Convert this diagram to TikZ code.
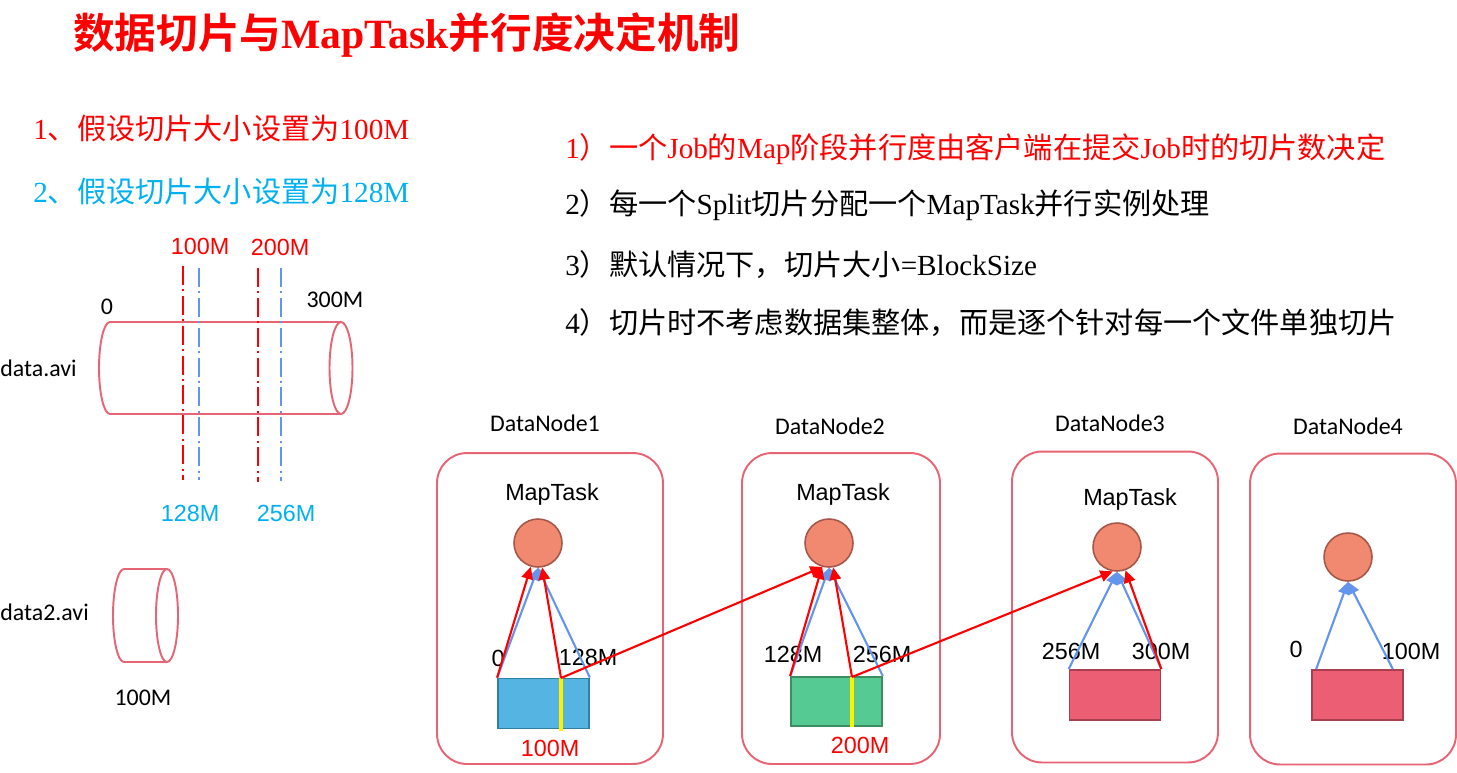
\documentclass[tikz,border=0pt]{standalone}
\usepackage{fontspec}
\usetikzlibrary{arrows.meta}
\setmainfont{Liberation Serif}
\newfontfamily\cjk{Noto Sans CJK SC}[BoldFont={Noto Sans CJK SC Bold}]
\newfontfamily\arial{Liberation Sans}
\newfontfamily\calib{Carlito}
\newcommand\zh[1]{{\cjk #1}}

\definecolor{pinkline}{HTML}{E66474}
\definecolor{cyantext}{HTML}{00B0F0}
\definecolor{cornblue}{HTML}{6495ED}
\definecolor{taskfill}{HTML}{F0896F}
\definecolor{taskline}{HTML}{A5574A}

\tikzset{
  dnbox/.style={draw=pinkline, line width=1.1pt, rounded corners=0.6cm, minimum height=6.22cm, inner sep=0pt},
  task/.style={circle, draw=taskline, fill=taskfill, line width=0.9pt, minimum size=0.96cm, inner sep=0pt},
  blk/.style={rectangle, line width=1pt, minimum width=1.82cm, minimum height=1.0cm, inner sep=0pt},
  redarr/.style={draw=red, line width=1.2pt, -{Triangle[length=7pt,width=6.5pt]}},
  bluearr/.style={draw=cornblue, line width=1.2pt, -{Triangle[length=7pt,width=6.5pt]}},
  cut/.style={draw=yellow, line width=2pt},
  redcut/.style={draw=red, line width=1.1pt, dash pattern=on 10.8pt off 2.5pt on 1.2pt off 2.5pt},
  bluecut/.style={draw=cornblue, line width=1.1pt, dash pattern=on 10.8pt off 2.5pt on 1.2pt off 2.5pt},
  lbl/.style={font=\arial\fontsize{13.3}{15}\selectfont, inner sep=0pt},
  cal/.style={font=\calib\fontsize{13.6}{15}\selectfont, inner sep=0pt},
  item/.style={font=\fontsize{16.6}{20}\selectfont, anchor=west, inner sep=0pt}
}

\begin{document}
\begin{tikzpicture}[x=0.02cm, y=-0.02cm]

\useasboundingbox ( 0, 0 ) rectangle ( 1457, 772 );

% Title
\node [anchor=west, red, inner sep=0pt, font=\fontsize{23.7}{26}\selectfont\bfseries] (title) at ( 73, 35 ) {\zh{数据切片与}MapTask\zh{并行度决定机制}};

% Split sizes
\node [item, red] (size1) at ( 33, 128 ) {1\zh{、假设切片大小设置为}100M};
\node [item, cyantext] (size2) at ( 33, 191 ) {2\zh{、假设切片大小设置为}128M};

% Rules
\node [item, red] (rule1) at ( 565, 149 ) {1\zh{）一个}Job\zh{的}Map\zh{阶段并行度由客户端在提交}Job\zh{时的切片数决定}};
\node [item] (rule2) at ( 565, 205 ) {2\zh{）每一个}Split\zh{切片分配一个}MapTask\zh{并行实例处理}};
\node [item] (rule3) at ( 565, 265 ) {3\zh{）默认情况下，切片大小}=BlockSize};
\node [item] (rule4) at ( 565, 323 ) {4\zh{）切片时不考虑数据集整体，而是逐个针对每一个文件单独切片}};

% data.avi
\draw [pinkline, line width=1.1pt] ( 341, 322 ) -- ( 110, 322 ) arc [start angle=90, end angle=270, x radius=0.22cm, y radius=0.92cm] -- ( 341, 414 );
\draw [pinkline, line width=1.1pt] ( 341, 368 ) ellipse [x radius=0.23cm, y radius=0.92cm];
\draw [redcut] ( 183, 266 ) -- ( 183, 480 );
\draw [bluecut] ( 199, 268 ) -- ( 199, 480 );
\draw [redcut] ( 258, 268 ) -- ( 258, 482 );
\draw [bluecut] ( 281, 268 ) -- ( 281, 481 );

% data2.avi
\draw [pinkline, line width=1.1pt] ( 167, 569 ) -- ( 124, 569 ) arc [start angle=90, end angle=270, x radius=0.22cm, y radius=0.93cm] -- ( 167, 662 );
\draw [pinkline, line width=1.1pt] ( 167, 615.5 ) ellipse [x radius=0.22cm, y radius=0.93cm];

% Cylinder labels
\node [cal, anchor=west] (file1) at ( 0, 368 ) {data.avi};
\node [cal, anchor=west] (file2) at ( 0, 612 ) {data2.avi};
\node [cal] (start1) at ( 107, 307 ) {0};
\node [cal] (end1) at ( 335, 300 ) {300M};
\node [cal] (end2) at ( 143, 698 ) {100M};
\node [lbl, red] (cut100) at ( 200, 246 ) {100M};
\node [lbl, red] (cut200) at ( 280, 247 ) {200M};
\node [lbl, cyantext] (cut128) at ( 190, 513 ) {128M};
\node [lbl, cyantext] (cut256) at ( 286, 513 ) {256M};

% DataNodes
\node [dnbox, minimum width=4.52cm] (n1) at ( 550, 608.5 ) {};
\node [dnbox, minimum width=3.96cm] (n2) at ( 841, 608.5 ) {};
\node [dnbox, minimum width=4.12cm] (n3) at ( 1115, 607 ) {};
\node [dnbox, minimum width=4.12cm] (n4) at ( 1353, 609 ) {};
\node [cal] (name1) at ( 545, 423 ) {DataNode1};
\node [cal] (name2) at ( 830, 426 ) {DataNode2};
\node [cal] (name3) at ( 1110, 423 ) {DataNode3};
\node [cal] (name4) at ( 1348, 426 ) {DataNode4};

% MapTasks
\node [lbl] (t1) at ( 552, 494 ) {MapTask};
\node [lbl] (t2) at ( 843, 494 ) {MapTask};
\node [lbl] (t3) at ( 1130, 499 ) {MapTask};
\node [task] (c1) at ( 538, 543 ) {};
\node [task] (c2) at ( 829, 543 ) {};
\node [task] (c3) at ( 1117, 547 ) {};
\node [task] (c4) at ( 1348, 557 ) {};

% Blocks
\node [blk, fill={rgb,255:red,86;green,180;blue,227}, draw={rgb,255:red,47;green,127;blue,160}] (r1) at ( 543.5, 703.5 ) {};
\node [blk, fill={rgb,255:red,85;green,202;blue,147}, draw={rgb,255:red,60;green,142;blue,98}, minimum height=0.98cm] (r2) at ( 836.5, 701.5 ) {};
\node [blk, fill={rgb,255:red,235;green,94;blue,116}, draw={rgb,255:red,168;green,64;blue,79}] (r3) at ( 1115, 695 ) {};
\node [blk, fill={rgb,255:red,235;green,94;blue,116}, draw={rgb,255:red,168;green,64;blue,79}] (r4) at ( 1357.5, 695 ) {};
\coordinate (y1) at ( 561, 678 );
\coordinate (y2) at ( 852, 677 );
\draw [cut] (y1) -- ( 561, 731 );
\draw [cut] (y2) -- ( 852, 727 );

% Offsets
\node [lbl] (o1a) at ( 498, 658 ) {0};
\node [lbl] (o1b) at ( 588, 657 ) {128M};
\node [lbl] (o2a) at ( 793, 654 ) {128M};
\node [lbl] (o2b) at ( 882, 654 ) {256M};
\node [lbl] (o3a) at ( 1071, 651 ) {256M};
\node [lbl] (o3b) at ( 1161, 651 ) {300M};
\node [lbl] (o4a) at ( 1296, 649 ) {0};
\node [lbl] (o4b) at ( 1411, 651 ) {100M};
\node [lbl, red] (b1) at ( 550, 748 ) {100M};
\node [lbl, red] (b2) at ( 860, 745 ) {200M};

% 128M splits
\draw [bluearr] (r1.north west) -- (c1.south);
\draw [bluearr] (r1.north east) -- (c1.south);
\draw [bluearr] (r2.north west) -- (c2.south);
\draw [bluearr] (r2.north east) -- (c2.south);
\draw [bluearr] (r3.north west) -- (c3.south);
\draw [bluearr] (r3.north east) -- (c3.south);
\draw [bluearr] ([xshift=0.1cm]r4.north west) -- (c4.south);
\draw [bluearr] ([xshift=-0.22cm]r4.north east) -- (c4.south);

% 100M splits
\draw [redarr] (r1.north west) -- (c1);
\draw [redarr] (y1) -- (c1);
\draw [redarr] (y1) -- (c2.-105);
\draw [redarr] (r2.north west) -- (c2);
\draw [redarr] (y2) -- (c2);
\draw [redarr] (y2) -- (c3.-100);
\draw [redarr] (r3.north east) -- (c3);

\end{tikzpicture}
\end{document}
